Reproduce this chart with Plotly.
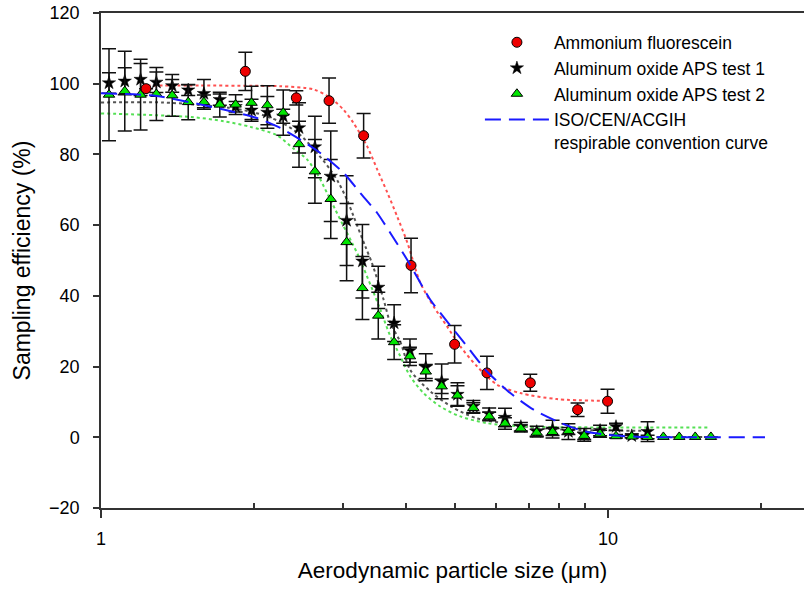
import plotly.graph_objects as go

# ---------------- data ----------------
channels = [1.037, 1.114, 1.197, 1.286, 1.382, 1.486, 1.596, 1.715, 1.843, 1.981,
            2.129, 2.288, 2.458, 2.642, 2.839, 3.051, 3.278, 3.523, 3.786, 4.068,
            4.371, 4.698, 5.048, 5.425, 5.829, 6.264, 6.732, 7.234, 7.774, 8.354,
            8.977, 9.647, 10.37, 11.14, 11.97, 12.86, 13.82, 14.86, 15.96]

test1_y = [100.2, 100.7, 101.2, 100.4, 99.4, 98.2, 97.2, 95.5, 93.5, 92.5,
           91.9, 90.8, 87.5, 82.1, 73.8, 61.3, 49.8, 42.4, 32.3, 24.5,
           19.8, 15.8, 12.1, 8.7, 6.6, 5.6, 3.0, 1.6, 2.3, 1.6,
           0.7, 1.9, 3.0, 0.4, 1.6]
test1_err = [2.9, 3.8, 4.5, 2.9, 1.8, 1.5, 4.0, 1.6, 1.5, 3.1,
             4.5, 2.0, 7.1, 8.7, 12.8, 12.7, 10.4, 6.0, 5.2, 3.3,
             3.8, 4.9, 3.3, 1.7, 1.7, 2.6, 1.2, 1.5, 2.5, 2.2,
             1.8, 1.5, 1.0, 0.5, 2.8]

test2_y = [96.9, 97.9, 96.9, 97.1, 96.7, 94.8, 94.8, 94.1, 94.1, 94.6,
           93.9, 91.8, 82.9, 75.2, 67.4, 55.2, 42.2, 34.4, 26.9, 22.9,
           18.6, 14.4, 11.8, 8.3, 5.9, 3.9, 2.5, 1.3, 1.5, 1.8,
           0.4, 1.0, 0.3, 0.2, 0.1, 0.1, 0.1, 0.1, 0.1]
test2_err = [13.0, 11.3, 10.0, 7.5, 5.9, 5.0, 2.0, 3.5, 2.8, 4.7,
             5.5, 6.4, 6.5, 9.0, 11.2, 10.9, 8.9, 6.6, 4.9, 2.6,
             2.0, 2.0, 2.8, 1.5, 1.2, 1.6, 1.0, 1.0, 1.0, 1.0,
             1.0, 1.0, 0.5, 0.3, 0.5, 0.0, 0.0, 0.0, 0.0]

af_x = [1.227, 1.926, 2.428, 2.817, 3.296, 4.088, 4.983, 5.771, 7.027, 8.71, 9.98]
af_y = [98.6, 103.5, 96.0, 95.2, 85.3, 48.6, 26.3, 18.2, 15.4, 7.8, 10.2]
af_err = [0.0, 5.4, 2.0, 6.4, 6.3, 7.7, 5.3, 4.7, 2.4, 1.9, 3.4]

# fitted curves (dotted) and convention curve (dashed)
af_fit_x = [1.234, 1.570, 1.970, 2.258, 2.623, 2.833, 3.006, 3.145, 3.352, 3.507,
            3.671, 3.840, 4.019, 4.264, 4.529, 4.813, 5.113, 5.514, 6.040, 6.714,
            7.930, 9.980]
af_fit_y = [99.5, 99.5, 99.4, 99.3, 98.4, 96.0, 92.7, 89.0, 82.2, 75.7,
            69.2, 62.4, 55.1, 43.7, 37.0, 31.4, 25.7, 20.1, 14.9, 12.5,
            10.8, 10.3]

t1_fit_x = [1.0, 1.321, 1.535, 1.785, 2.015, 2.258, 2.472, 2.667, 2.833, 2.942,
            3.056, 3.149, 3.321, 3.423, 3.610, 3.721, 3.894, 4.075, 4.462, 4.931,
            5.497, 6.216, 7.353, 12.12]
t1_fit_y = [94.7, 94.7, 94.1, 93.2, 91.8, 89.2, 85.5, 80.4, 75.7, 72.0,
            67.2, 62.5, 54.0, 49.3, 38.9, 32.3, 27.0, 19.0, 13.0, 8.5,
            5.4, 4.0, 2.5, 1.8]

t2_fit_x = [1.0, 1.500, 1.745, 1.970, 2.224, 2.399, 2.549, 2.687, 2.791, 2.898,
            3.009, 3.127, 3.222, 3.556, 3.721, 3.894, 4.075, 4.328, 4.670, 5.113,
            5.772, 6.714, 15.91]
t2_fit_y = [91.6, 90.6, 89.4, 87.8, 85.4, 81.6, 78.6, 73.8, 69.1, 64.4,
            59.7, 55.0, 51.2, 36.1, 28.6, 22.9, 17.2, 12.5, 8.7, 5.9,
            4.0, 3.1, 2.8]

iso_x = [1.0, 1.290, 1.745, 2.031, 2.258, 2.472, 2.707, 3.009, 3.246, 3.503,
         3.721, 4.014, 4.462, 4.813, 5.272, 5.772, 6.417, 7.133, 8.055, 8.953,
         9.954, 11.58, 20.4]
iso_y = [97.3, 96.5, 92.7, 90.3, 87.5, 84.2, 80.4, 74.8, 69.1, 63.5,
         57.8, 50.3, 38.9, 32.8, 25.7, 18.6, 12.5, 7.8, 4.1, 1.7,
         0.7, 0.1, 0.0]

x_tick_vals = [1, 10]
x_tick_text = ["1", "10"]
x_minor_vals = [2, 3, 4, 5, 6, 7, 8, 9, 20]

FONT = "Liberation Sans, Arial, Helvetica, sans-serif"

fig = go.Figure()

# dotted fit curves
fig.add_trace(go.Scatter(x=af_fit_x, y=af_fit_y, mode="lines", showlegend=False,
                         line=dict(color="#ff5050", width=2, dash="dot", shape="spline", smoothing=0.8),
                         hoverinfo="skip"))
fig.add_trace(go.Scatter(x=t1_fit_x, y=t1_fit_y, mode="lines", showlegend=False,
                         line=dict(color="#555555", width=2, dash="dot", shape="spline", smoothing=0.8),
                         hoverinfo="skip"))
fig.add_trace(go.Scatter(x=t2_fit_x, y=t2_fit_y, mode="lines", showlegend=False,
                         line=dict(color="#55e055", width=2, dash="dot", shape="spline", smoothing=0.8),
                         hoverinfo="skip"))

errstyle = dict(type="data", symmetric=True, color="#111111", thickness=1.5, width=7)

fig.add_trace(go.Scatter(
    x=channels[:len(test1_y)], y=test1_y, mode="markers", name="Aluminum oxide APS test 1",
    legendrank=2,
    marker=dict(symbol="star", size=10, color="black", line=dict(color="black", width=0.5)),
    error_y=dict(array=test1_err, **errstyle)))

fig.add_trace(go.Scatter(
    x=channels, y=test2_y, mode="markers", name="Aluminum oxide APS test 2",
    legendrank=3,
    marker=dict(symbol="triangle-up", size=10, color="#00e600", line=dict(color="black", width=1)),
    error_y=dict(array=test2_err, **errstyle)))

fig.add_trace(go.Scatter(
    x=af_x, y=af_y, mode="markers", name="Ammonium fluorescein",
    legendrank=1,
    marker=dict(symbol="circle", size=10, color="#ee0000", line=dict(color="black", width=1)),
    error_y=dict(array=af_err, **errstyle)))

fig.add_trace(go.Scatter(
    x=iso_x, y=iso_y, mode="lines", name="ISO/CEN/ACGIH<br>respirable convention curve",
    legendrank=4,
    line=dict(color="#1a1aff", width=2, dash="16px,8px", shape="spline", smoothing=0.6)))

fig.update_layout(
    width=804, height=589,
    margin=dict(l=101, r=0, t=13, b=81),
    paper_bgcolor="white", plot_bgcolor="white",
    font=dict(family=FONT, color="black", size=18),
    legend=dict(x=0.539, y=0.977, xanchor="left", yanchor="top",
                font=dict(size=17.5, family=FONT), itemwidth=64, valign="top",
                bgcolor="rgba(0,0,0,0)", borderwidth=0, tracegroupgap=0),
    xaxis=dict(type="log", range=[0, 1.3866],
               tickmode="array", tickvals=x_tick_vals, ticktext=x_tick_text,
               ticks="outside", ticklen=8, tickwidth=1.5, tickcolor="#333",
               minor=dict(tickmode="array", tickvals=x_minor_vals, ticks="inside",
                          ticklen=5, tickwidth=1.5, tickcolor="#333", showgrid=False),
               showline=True, linecolor="#333", linewidth=1.5, mirror=True,
               showgrid=False, zeroline=False,
               tickfont=dict(size=18), ticklabelstandoff=6,
               title=dict(text="Aerodynamic particle size (μm)", font=dict(size=22.5), standoff=14)),
    yaxis=dict(range=[-20, 120], tickmode="linear", tick0=-20, dtick=20,
               ticks="outside", ticklen=6, tickwidth=1.5, tickcolor="#333",
               showline=True, linecolor="#333", linewidth=1.5,
               showgrid=False, zeroline=False,
               tickfont=dict(size=18), ticklabelstandoff=10,
               title=dict(text="Sampling efficiency (%)", font=dict(size=23), standoff=12)),
)

fig.write_html("out.html")
